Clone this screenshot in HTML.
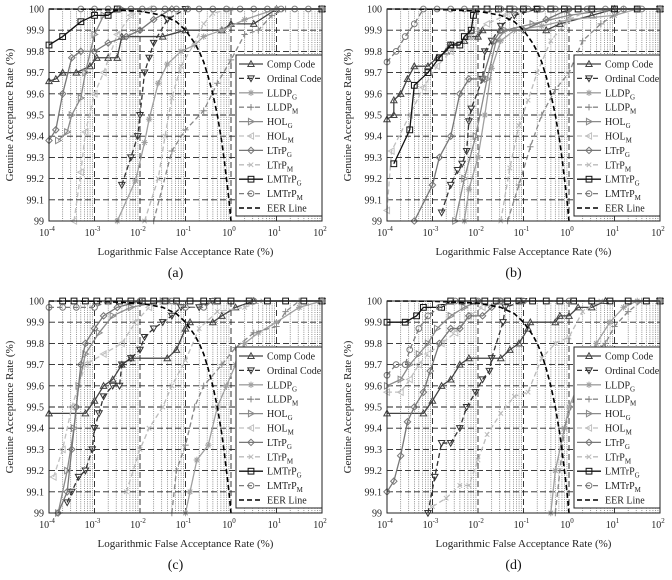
<!DOCTYPE html>
<html><head><meta charset="utf-8"><style>
html,body{margin:0;padding:0;background:#fff}
svg{display:block;font-family:"Liberation Serif",serif}
</style></head><body>
<svg id="fig" width="672" height="580" viewBox="0 0 672 580" xmlns="http://www.w3.org/2000/svg"></svg>
<script>
const panelLabels = ['(a)','(b)','(c)','(d)'];
const seriesNames = ['Comp Code','Ordinal Code','LLDP|G','LLDP|M','HOL|G','HOL|M','LTrP|G','LTrP|M','LMTrP|G','LMTrP|M'];
const xTickExps = [-4,-3,-2,-1,0,1,2];
const yTicks = [99,99.1,99.2,99.3,99.4,99.5,99.6,99.7,99.8,99.9,100];
const eerX = [-4,-3,-2,-1.5,-1.2,-1,-0.8,-0.7,-0.6,-0.5,-0.4,-0.3,-0.2,-0.15,-0.1,-0.05,0];
const eerY = [100,99.999,99.99,99.97,99.94,99.9,99.84,99.8,99.75,99.68,99.6,99.5,99.37,99.29,99.2,99.11,99];
const dataA = [
 [[-4,99.66],[-3.85,99.67],[-3.7,99.7],[-3.4,99.7],[-3.1,99.73],[-2.95,99.77],[-2.7,99.77],[-2.5,99.77],[-2.4,99.87],[-1.5,99.87],[-1,99.9],[-0.2,99.9],[0,99.93],[0.5,99.93],[1,100],[2,100]],
 [[-2.4,99.17],[-2.2,99.3],[-2.05,99.4],[-2,99.5],[-1.9,99.7],[-1.8,99.77],[-1.7,99.84],[-1.4,99.95],[-1,100],[2,100]],
 [[-2.5,99],[-2.1,99.19],[-1.9,99.37],[-1.8,99.48],[-1.6,99.65],[-1.4,99.74],[-1.1,99.8],[-0.8,99.83],[-0.6,99.87],[-0.2,99.9],[0.3,99.95],[1,100],[2,100]],
 [[-1.7,99],[-1.3,99.33],[-1,99.43],[-0.6,99.52],[-0.3,99.65],[0,99.76],[0.3,99.88],[0.6,99.9],[0.9,99.97],[1.2,100],[2,100]],
 [[-3.8,99.38],[-3.6,99.42],[-3.5,99.5],[-3.3,99.58],[-3.2,99.7],[-3.0,99.88],[-2.8,99.97],[-2.4,100],[2,100]],
 [[-3.45,99],[-3.3,99.23],[-3.2,99.42],[-3.0,99.6],[-2.8,99.7],[-2.5,99.88],[-2.2,99.97],[-1.8,100],[2,100]],
 [[-4,99.38],[-3.85,99.43],[-3.7,99.6],[-3.5,99.77],[-3.3,99.8],[-3,99.8],[-2.7,99.84],[-2.3,99.87],[-2,99.9],[-1.7,99.95],[-1.3,100],[2,100]],
 [[-1.9,99],[-1.6,99.2],[-1.45,99.4],[-1.3,99.58],[-1.1,99.73],[-0.8,99.84],[-0.6,99.93],[-0.4,99.98],[0,100],[2,100]],
 [[-4,99.83],[-3.7,99.87],[-3.3,99.94],[-3,99.97],[-2.7,99.97],[-2.5,100],[2,100]],
 [[-3.3,100],[-3,100],[-2.7,100],[-2.45,100],[-2.2,100],[-1.95,100],[-1.7,100],[-1.45,100],[-1.2,100],[-0.95,100],[-0.7,100],[-0.4,100],[-0.1,100],[0.2,100],[0.5,100],[0.8,100],[1.1,100],[1.4,100],[1.7,100],[2,100]]
];
const dataB = [
 [[-4,99.48],[-3.85,99.5],[-3.85,99.57],[-3.7,99.6],[-3.55,99.67],[-3.4,99.73],[-3.1,99.73],[-2.9,99.77],[-2.7,99.8],[-2.6,99.83],[-2.3,99.85],[-2.2,99.87],[-2.0,99.87],[-1.9,99.9],[-1.5,99.9],[-0.5,99.9],[-0.2,99.93],[0.5,99.97],[1,100],[2,100]],
 [[-2.8,99.04],[-2.6,99.17],[-2.45,99.24],[-2.35,99.27],[-2.25,99.33],[-2.2,99.47],[-2.15,99.53],[-1.9,99.67],[-1.85,99.8],[-1.7,99.85],[-1.5,99.92],[-1.2,99.97],[-0.7,100],[2,100]],
 [[-2.3,99],[-2.2,99.15],[-2.0,99.3],[-1.85,99.5],[-1.7,99.72],[-1.5,99.85],[-1.2,99.9],[-0.6,99.92],[0,99.95],[1,99.97],[1.5,100],[2,100]],
 [[-1.35,99],[-1.1,99.17],[-0.85,99.35],[-0.6,99.5],[-0.3,99.62],[0,99.7],[0.3,99.85],[0.7,99.93],[1.2,100],[2,100]],
 [[-2.5,99],[-2.3,99.2],[-2.05,99.4],[-1.8,99.67],[-1.6,99.85],[-1.4,99.9],[-0.8,99.93],[0,99.97],[1,100],[2,100]],
 [[-4,99.05],[-3.9,99.33],[-3.5,99.5],[-3.2,99.63],[-2.9,99.73],[-2.6,99.8],[-2.2,99.87],[-1.8,99.93],[-1.4,99.97],[-1,100],[2,100]],
 [[-3.4,99],[-3.0,99.17],[-2.85,99.3],[-2.6,99.4],[-2.4,99.6],[-2.2,99.67],[-1.9,99.67],[-1.65,99.85],[-1.5,99.9],[-1,99.9],[-0.5,99.95],[0,100],[2,100]],
 [[-1.5,99],[-1.3,99.25],[-1.1,99.45],[-0.9,99.57],[-0.7,99.7],[-0.4,99.85],[0,99.95],[0.5,100],[2,100]],
 [[-3.85,99.27],[-3.5,99.43],[-3.4,99.64],[-3.1,99.7],[-2.85,99.77],[-2.6,99.83],[-2.4,99.83],[-2.3,99.87],[-2.15,99.9],[-2.1,99.97],[-2.05,100],[-1.8,100],[-1.55,100],[-1.3,100],[-1,100],[-0.7,100],[-0.4,100],[-0.1,100],[0.2,100],[0.5,100],[1,100],[1.5,100],[2,100]],
 [[-4,99.75],[-3.8,99.8],[-3.6,99.87],[-3.4,99.93],[-3.2,100],[-2.9,100],[-2.6,100],[-2.3,100],[-2.05,100],[-1.8,100],[-1.5,100],[-1.2,100],[-0.9,100],[-0.6,100],[-0.3,100],[0,100],[0.4,100],[0.8,100],[1.2,100],[1.6,100],[2,100]]
];
const dataC = [
 [[-4,99.47],[-3.2,99.47],[-3,99.53],[-2.8,99.6],[-2.6,99.63],[-2.4,99.7],[-2.2,99.73],[-1.4,99.73],[-1.2,99.77],[-1,99.87],[-0.9,99.9],[-0.4,99.9],[-0.2,99.93],[0.1,99.97],[0.5,100],[2,100]],
 [[-3.6,99.05],[-3.5,99.1],[-3.35,99.17],[-3.2,99.2],[-3.05,99.3],[-3,99.4],[-2.9,99.47],[-2.8,99.55],[-2.6,99.6],[-2.45,99.6],[-2.4,99.7],[-2.2,99.73],[-2,99.77],[-1.9,99.83],[-1.7,99.87],[-1.5,99.9],[-1.3,99.93],[-1.1,99.97],[-0.7,99.97],[-0.4,100],[2,100]],
 [[-1,99],[-0.9,99.1],[-0.75,99.25],[-0.5,99.32],[-0.3,99.5],[-0.1,99.6],[0.1,99.7],[0.3,99.8],[0.6,99.85],[1,99.9],[1.5,99.97],[2,100]],
 [[-1.3,99],[-1.2,99.2],[-1,99.32],[-0.8,99.5],[-0.6,99.6],[-0.2,99.7],[0.1,99.78],[0.5,99.85],[1,99.88],[1.2,99.95],[1.5,100],[2,100]],
 [[-3.8,99],[-3.6,99.2],[-3.45,99.4],[-3.35,99.6],[-3.2,99.75],[-2.9,99.85],[-2.6,99.93],[-2.2,99.97],[-1.5,100],[2,100]],
 [[-3.9,99.17],[-3.7,99.3],[-3.5,99.5],[-3.2,99.7],[-2.8,99.75],[-2.4,99.8],[-2.1,99.9],[-1.8,99.97],[-1.4,100],[2,100]],
 [[-3.8,99],[-3.6,99.1],[-3.5,99.3],[-3.4,99.5],[-3.3,99.7],[-3.2,99.8],[-3,99.87],[-2.8,99.93],[-2.5,99.97],[-2,100],[2,100]],
 [[-2.3,99.1],[-2,99.3],[-1.8,99.4],[-1.5,99.5],[-1.3,99.6],[-1,99.72],[-0.7,99.87],[-0.3,99.95],[0.3,99.97],[0.7,100],[2,100]],
 [[-3.7,100],[-3.45,100],[-3.2,100],[-2.95,100],[-2.7,100],[-2.45,100],[-2.2,100],[-1.95,100],[-1.7,100],[-1.45,100],[-1.2,100],[-0.9,100],[-0.6,100],[-0.3,100],[0,100],[0.4,100],[0.8,100],[1.2,100],[1.6,100],[2,100]],
 [[-4,99.97],[-3.7,99.97],[-3.4,99.97],[-3,99.97],[-2.7,100],[-2,100],[-1.3,100],[-1,99.97],[-0.6,99.97],[-0.4,100],[0.5,100],[2,100]]
];
const dataD = [
 [[-4,99.47],[-3.2,99.47],[-3,99.53],[-2.8,99.6],[-2.6,99.63],[-2.4,99.7],[-2.2,99.73],[-1.5,99.73],[-1.3,99.77],[-1.1,99.8],[-0.9,99.87],[-0.85,99.9],[-0.3,99.9],[-0.2,99.93],[0,99.93],[0.2,99.97],[0.5,99.97],[0.8,100],[2,100]],
 [[-3.1,99],[-2.95,99.17],[-2.8,99.33],[-2.6,99.33],[-2.4,99.4],[-2.25,99.5],[-2.05,99.57],[-1.9,99.63],[-1.75,99.67],[-1.7,99.73],[-1.45,99.9],[-1.4,99.97],[-1,100],[2,100]],
 [[-0.4,99],[-0.3,99.2],[-0.1,99.4],[0,99.5],[0.3,99.65],[0.6,99.8],[0.9,99.9],[1.2,99.97],[1.5,100],[2,100]],
 [[-0.3,99],[-0.1,99.4],[0.2,99.6],[0.5,99.75],[0.8,99.8],[1,99.88],[1.3,99.95],[1.6,100],[2,100]],
 [[-4,99.6],[-3.7,99.63],[-3.5,99.7],[-3.3,99.75],[-3.1,99.8],[-2.9,99.87],[-2.6,99.93],[-2.3,99.97],[-2,100],[2,100]],
 [[-4,99.57],[-3.7,99.57],[-3.5,99.63],[-3.3,99.7],[-3.1,99.75],[-2.8,99.8],[-2.5,99.85],[-2.2,99.93],[-1.9,99.97],[-1.5,100],[2,100]],
 [[-4,99.1],[-3.85,99.15],[-3.7,99.27],[-3.55,99.43],[-3.4,99.5],[-3.2,99.57],[-3.05,99.67],[-2.85,99.8],[-2.6,99.87],[-2.4,99.87],[-2.2,99.93],[-1.9,99.93],[-1.7,99.97],[-1.5,100],[2,100]],
 [[-3,99.03],[-2.7,99.07],[-2.4,99.13],[-2.2,99.13],[-2,99.25],[-1.8,99.37],[-1.5,99.47],[-1.2,99.55],[-0.9,99.57],[-0.6,99.73],[-0.3,99.8],[0,99.83],[0.3,99.95],[0.7,100],[2,100]],
 [[-4,99.9],[-3.6,99.9],[-3.35,99.93],[-3.2,99.97],[-2.8,99.97],[-2.6,100],[-2.35,100],[-2.1,100],[-1.85,100],[-1.6,100],[-1.35,100],[-1.1,100],[-0.8,100],[-0.5,100],[-0.2,100],[0.1,100],[0.5,100],[0.9,100],[1.3,100],[1.7,100],[2,100]],
 [[-4,99.65],[-3.8,99.7],[-3.6,99.7],[-3.5,99.77],[-3.3,99.87],[-3.1,99.93],[-2.85,99.97],[-2.5,100],[-2,100],[-1.5,100],[-1,100],[0,100],[2,100]]
];
const panelData = [dataA, dataB, dataC, dataD];

const NS='http://www.w3.org/2000/svg';
const svg=document.getElementById('fig');
function el(tag,attrs,parent){const e=document.createElementNS(NS,tag);for(const k in attrs)e.setAttribute(k,attrs[k]);(parent||svg).appendChild(e);return e;}
const styles=[
 {c:'#444',d:'',m:'tri'},{c:'#333',d:'5,3',m:'tridown'},{c:'#a0a0a0',d:'',m:'star'},{c:'#888',d:'5,3',m:'plus'},
 {c:'#8a8a8a',d:'',m:'tright'},{c:'#c0c0c0',d:'5,3',m:'tleft'},{c:'#777',d:'',m:'diamond'},{c:'#bbb',d:'5,3',m:'x'},
 {c:'#111',d:'',m:'square'},{c:'#7a7a7a',d:'5,3',m:'circle'}];
function marker(g,type,x,y,c){
 const s=3.2;let a={fill:'none',stroke:c,'stroke-width':1};
 if(type==='tri')el('polygon',Object.assign({points:`${x},${y-s} ${x-s},${y+s*0.8} ${x+s},${y+s*0.8}`},a),g);
 else if(type==='tridown')el('polygon',Object.assign({points:`${x},${y+s} ${x-s},${y-s*0.8} ${x+s},${y-s*0.8}`},a),g);
 else if(type==='tright')el('polygon',Object.assign({points:`${x+s},${y} ${x-s*0.8},${y-s} ${x-s*0.8},${y+s}`},a),g);
 else if(type==='tleft')el('polygon',Object.assign({points:`${x-s},${y} ${x+s*0.8},${y-s} ${x+s*0.8},${y+s}`},a),g);
 else if(type==='diamond')el('polygon',Object.assign({points:`${x},${y-s} ${x+s},${y} ${x},${y+s} ${x-s},${y}`},a),g);
 else if(type==='square')el('rect',Object.assign({x:x-s*0.9,y:y-s*0.9,width:s*1.8,height:s*1.8},a),g);
 else if(type==='circle')el('circle',Object.assign({cx:x,cy:y,r:s*0.9},a),g);
 else if(type==='plus')el('path',Object.assign({d:`M${x-s},${y}H${x+s}M${x},${y-s}V${y+s}`},a),g);
 else if(type==='x')el('path',Object.assign({d:`M${x-s*.7},${y-s*.7}L${x+s*.7},${y+s*.7}M${x-s*.7},${y+s*.7}L${x+s*.7},${y-s*.7}`},a),g);
 else if(type==='star')el('path',Object.assign({d:`M${x-s},${y}H${x+s}M${x},${y-s}V${y+s}M${x-s*.7},${y-s*.7}L${x+s*.7},${y+s*.7}M${x-s*.7},${y+s*.7}L${x+s*.7},${y-s*.7}`},a),g);
}
const panels=[{l:49,t:9},{l:387,t:9},{l:49,t:301},{l:387,t:301}];
const W=273,H=212;
panels.forEach((p,pi)=>{
 const g=el('g',{});
 
 
 const X=v=>p.l+(v+4)/6*W, Y=v=>p.t+(100-v)*H;
 el('rect',{x:p.l,y:p.t,width:W,height:H,fill:'#fff'},g);
 const grid=el('g',{},g);
 
 
 for(let e=-4;e<2;e++)for(let k=2;k<10;k++){const x=X(e+Math.log10(k));el('line',{x1:x,x2:x,y1:p.t,y2:p.t+H,stroke:'#666','stroke-width':0.7,'stroke-dasharray':'1,1.2'},grid);}
 xTickExps.forEach(e=>{const x=X(e);el('line',{x1:x,x2:x,y1:p.t,y2:p.t+H,stroke:'#222','stroke-width':0.9,'stroke-dasharray':'6,3'},grid);});
 yTicks.forEach(v=>{const y=Y(v);el('line',{x1:p.l,x2:p.l+W,y1:y,y2:y,stroke:'#222','stroke-width':0.9,'stroke-dasharray':'6,3'},grid);});
 panelData[pi].forEach((pts,si)=>{
  const st=styles[si];const sg=el('g',{},g);
  
  
  el('polyline',{points:pts.map(q=>X(q[0])+','+Y(q[1])).join(' '),fill:'none',stroke:st.c,'stroke-width':1.3,'stroke-dasharray':st.d},sg);
  pts.forEach(q=>marker(sg,st.m,X(q[0]),Y(q[1]),st.c));
 });
 const eg=el('polyline',{points:eerX.map((v,i)=>X(v)+','+Y(eerY[i])).join(' '),fill:'none',stroke:'#000','stroke-width':1.6,'stroke-dasharray':'5,3'},g);
 
 
 el('rect',{x:p.l,y:p.t,width:W,height:H,fill:'none',stroke:'#222','stroke-width':1},g);
 yTicks.forEach(v=>{const t=el('text',{x:p.l-5,y:Y(v)+3.5,'font-size':10,'text-anchor':'end',fill:'#222'},g);t.textContent=(v===100?'100':v===99?'99':v.toFixed(1));
  
  });
 xTickExps.forEach(e=>{const t=el('text',{x:X(e)-2,y:p.t+H+15,'font-size':10,'text-anchor':'middle',fill:'#222'},g);
  
  
  t.textContent='10';const s=el('tspan',{dy:-5,'font-size':7},t);s.textContent=String(e);});
 const xl=el('text',{x:p.l+W/2,y:p.t+H+34,'font-size':11,'text-anchor':'middle',fill:'#222'},g);
 xl.textContent='Logarithmic False Acceptance Rate (%)';
 
 
 const yl=el('text',{x:0,y:0,'font-size':11,'text-anchor':'middle',fill:'#222',transform:`translate(${p.l-36},${p.t+H/2}) rotate(-90)`},g);
 yl.textContent='Genuine Acceptance Rate (%)';
 
 
 const cap=el('text',{x:p.l+W/2-10,y:p.t+H+56,'font-size':14,'text-anchor':'middle',fill:'#111'},g);
 cap.textContent=panelLabels[pi];
 
 
 const lx=p.l+187,ly=p.t+46,lw=W-187,lh=161;
 const lg=el('g',{},g);
 
 
 el('rect',{x:lx,y:ly,width:lw,height:lh,fill:'#fff',stroke:'#222','stroke-width':1},lg);
 const names=seriesNames.concat(['EER Line']);
 names.forEach((n,i)=>{
  const y=ly+9+i*14.4;const ent=el('g',{},lg);
  
  
  if(i<10){const st=styles[i];el('line',{x1:lx+3,x2:lx+27,y1:y,y2:y,stroke:st.c,'stroke-width':1.3,'stroke-dasharray':st.d},ent);marker(ent,st.m,lx+15,y,st.c);}
  else el('line',{x1:lx+3,x2:lx+27,y1:y,y2:y,stroke:'#000','stroke-width':1.6,'stroke-dasharray':'5,3'},ent);
  const t=el('text',{x:lx+31,y:y+3.5,'font-size':10,fill:'#222'},ent);
  const parts=n.split('|');t.textContent=parts[0];
  if(parts[1]){const s=el('tspan',{dy:3,'font-size':7},t);s.textContent=parts[1];}
 });
});
</script>
</body></html>
